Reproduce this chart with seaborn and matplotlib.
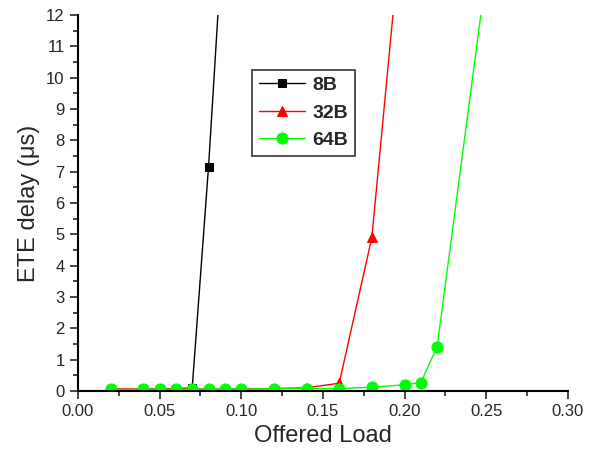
import matplotlib
matplotlib.use("Agg")
import matplotlib.pyplot as plt
import seaborn as sns
import pandas as pd
from matplotlib.ticker import MultipleLocator

x_8b = [0.02, 0.04, 0.05, 0.06, 0.07, 0.08, 0.09]
y_8b = [0.05, 0.05, 0.06, 0.07, 0.10, 7.15, 15.6]
x_32b = [0.02, 0.04, 0.05, 0.06, 0.08, 0.10, 0.12, 0.14, 0.16, 0.18, 0.20]
y_32b = [0.07, 0.06, 0.06, 0.07, 0.06, 0.06, 0.08, 0.10, 0.25, 4.9, 15.9]
x_64b = [0.02, 0.04, 0.05, 0.06, 0.07, 0.08, 0.09, 0.10, 0.12, 0.14, 0.16, 0.18, 0.20, 0.21, 0.22, 0.25]
y_64b = [0.05, 0.05, 0.05, 0.05, 0.06, 0.05, 0.06, 0.06, 0.07, 0.08, 0.08, 0.12, 0.20, 0.27, 1.42, 13.3]

sns.set_style("ticks")
plt.rcParams['font.family'] = ['Liberation Sans', 'DejaVu Sans']

fig = plt.figure(figsize=(5.99, 4.51), dpi=100)
ax = fig.add_axes([0.130, 0.133, 0.818, 0.834])

series = [
    ("8B", x_8b, y_8b, "black", "s", 5.5),
    ("32B", x_32b, y_32b, "red", "^", 7),
    ("64B", x_64b, y_64b, "#00ff00", "o", 8),
]
for name, xs, ys, col, mk, ms in series:
    df = pd.DataFrame({"x": xs, "y": ys})
    sns.lineplot(data=df, x="x", y="y", ax=ax, color=col, marker=mk,
                 markersize=ms, markeredgecolor=col, linewidth=1, label=name,
                 clip_on=True)

ax.set_xlim(0, 0.30)
ax.set_ylim(0, 12)
ax.xaxis.set_major_locator(MultipleLocator(0.05))
ax.xaxis.set_minor_locator(MultipleLocator(0.025))
ax.yaxis.set_major_locator(MultipleLocator(1))
ax.yaxis.set_minor_locator(MultipleLocator(0.5))
ax.xaxis.set_major_formatter(matplotlib.ticker.FormatStrFormatter("%.2f"))
ax.tick_params(which="major", direction="out", length=6, width=1.2, labelsize=12)
ax.tick_params(which="minor", direction="out", length=3.5, width=1.2)
for s in ["top", "right"]:
    ax.spines[s].set_visible(False)
for s in ["left", "bottom"]:
    ax.spines[s].set_linewidth(1.5)
    ax.spines[s].set_color("black")

ax.set_xlabel("Offered Load", fontsize=17)
ax.set_ylabel("ETE delay (\u03bcs)", fontsize=17)

leg = ax.legend(loc="upper left", bbox_to_anchor=(0.355, 0.854), frameon=True,
                fancybox=False, edgecolor="black", handlelength=2.4,
                prop={"weight": "bold", "size": 14}, borderpad=0.35,
                labelspacing=0.5, handletextpad=0.35, borderaxespad=0)
leg.get_frame().set_linewidth(1.2)
for line in leg.get_lines():
    line.set_alpha(1)

fig.savefig("out.png", dpi=100)
